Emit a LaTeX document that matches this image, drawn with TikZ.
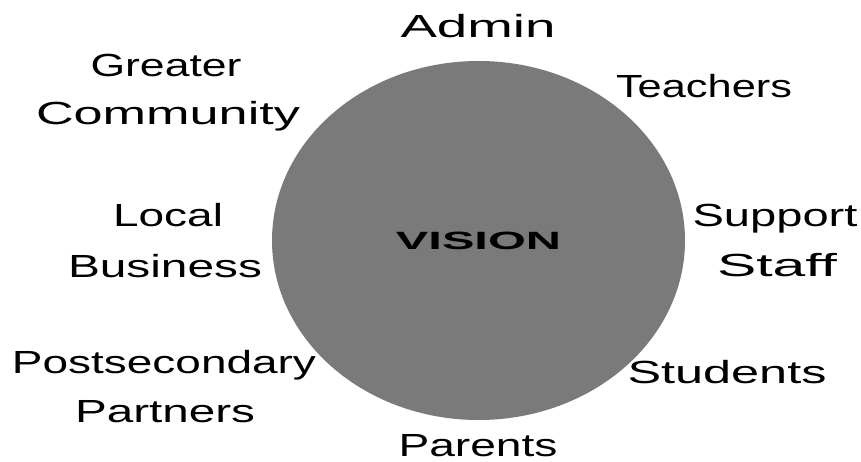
\documentclass[tikz,border=0pt]{standalone}
\usepackage{fontspec}
\setmainfont{Liberation Sans}
\usetikzlibrary{shapes.geometric}
\newcommand{\wbox}[2]{\resizebox{#1}{\height}{#2}}
\begin{document}
\begin{tikzpicture}[x=1pt,y=-1pt,
  lbl/.style={font=\fontsize{32}{36}\selectfont, anchor=base, inner sep=0pt, text=black},
  core/.style={ellipse, fill=black!52, minimum width=413pt, minimum height=359pt, inner sep=0pt, font=\fontsize{25}{28}\selectfont}]
\useasboundingbox (0,0) rectangle (861,462);
\fill[white] (0,0) rectangle (861,462);
\node[core] (vision) at (478.5,240.5) {\wbox{165pt}{\textbf{VISION}}};
\node[lbl] (admin) at (478,38) {\wbox{155pt}{Admin}};
\node[lbl] (greater) at (166,77) {\wbox{151pt}{Greater}};
\node[lbl] (community) at (168,125) {\wbox{264pt}{Community}};
\node[lbl] (teachers) at (704,98) {\wbox{176pt}{Teachers}};
\node[lbl] (local) at (168,227) {\wbox{110pt}{Local}};
\node[lbl] (business) at (165,277) {\wbox{194pt}{Business}};
\node[lbl] (support) at (775,226) {\wbox{165pt}{Support}};
\node[lbl] (staff) at (777,276) {\wbox{120pt}{Staff}};
\node[lbl] (postsec) at (164,373) {\wbox{304pt}{Postsecondary}};
\node[lbl] (partners) at (165,422) {\wbox{180pt}{Partners}};
\node[lbl] (students) at (727,383) {\wbox{199pt}{Students}};
\node[lbl] (parents) at (478,456) {\wbox{159pt}{Parents}};
\end{tikzpicture}
\end{document}
